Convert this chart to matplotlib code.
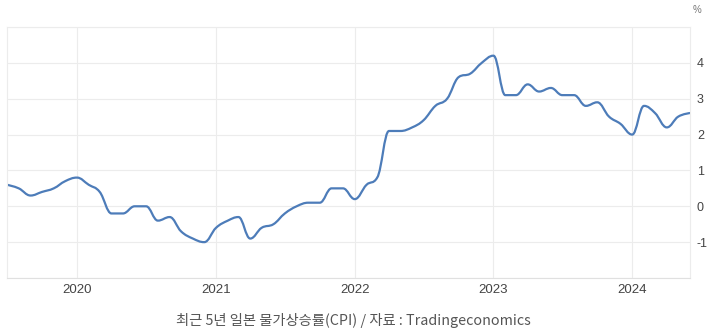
import numpy as np
import pandas as pd
import matplotlib
matplotlib.use("Agg")
import matplotlib.pyplot as plt
import matplotlib.dates as mdates
from matplotlib.path import Path
from matplotlib.patches import PathPatch

# 일본 근원 CPI (전년 대비, %), 2019-07 ~ 2024-06
months = pd.date_range("2019-07-01", "2024-06-01", freq="MS")
cpi = [0.6, 0.5, 0.3, 0.4, 0.5, 0.7,
       0.8, 0.6, 0.4, -0.2, -0.2, 0.0, 0.0, -0.4, -0.3, -0.7, -0.9, -1.0,
       -0.6, -0.4, -0.3, -0.9, -0.6, -0.5, -0.2, 0.0, 0.1, 0.1, 0.5, 0.5,
       0.2, 0.6, 0.8, 2.1, 2.1, 2.2, 2.4, 2.8, 3.0, 3.6, 3.7, 4.0,
       4.2, 3.1, 3.1, 3.4, 3.2, 3.3, 3.1, 3.1, 2.8, 2.9, 2.5, 2.3,
       2.0, 2.8, 2.6, 2.2, 2.5, 2.6]
y_ticks = [-1, 0, 1, 2, 3, 4]
year_ticks = ["2020", "2021", "2022", "2023", "2024"]
caption = "최근 5년 일본 물가상승률(CPI) / 자료 : Tradingeconomics"

line_color = "#4d7cb9"
grid_color = "#ececec"
text_color = "#444444"


def spline_path(xs, ys, smooth=1.5):
    # Highcharts 방식의 부드러운 곡선 (베지어 제어점)
    n = len(xs)
    verts = [(xs[0], ys[0])]
    codes = [Path.MOVETO]
    lc = [None] * n
    rc = [None] * n
    d = smooth + 1
    for i in range(1, n - 1):
        x0, y0 = xs[i - 1], ys[i - 1]
        x1, y1 = xs[i], ys[i]
        x2, y2 = xs[i + 1], ys[i + 1]
        lx = (smooth * x1 + x0) / d
        ly = (smooth * y1 + y0) / d
        rx = (smooth * x1 + x2) / d
        ry = (smooth * y1 + y2) / d
        if rx != lx:
            corr = (ry - ly) * (rx - x1) / (rx - lx) + y1 - ry
            ly += corr
            ry += corr
        if ly > y0 and ly > y1:
            ly = max(y0, y1)
            ry = 2 * y1 - ly
        elif ly < y0 and ly < y1:
            ly = min(y0, y1)
            ry = 2 * y1 - ly
        if ry > y2 and ry > y1:
            ry = max(y2, y1)
            ly = 2 * y1 - ry
        elif ry < y2 and ry < y1:
            ry = min(y2, y1)
            ly = 2 * y1 - ry
        lc[i] = (lx, ly)
        rc[i] = (rx, ry)
    for i in range(1, n):
        c1 = rc[i - 1] if rc[i - 1] is not None else (xs[i - 1], ys[i - 1])
        c2 = lc[i] if lc[i] is not None else (xs[i], ys[i])
        verts += [c1, c2, (xs[i], ys[i])]
        codes += [Path.CURVE4] * 3
    return Path(verts, codes)


fig = plt.figure(figsize=(7.09, 3.34), dpi=100)
ax = fig.add_axes([7 / 709, 1 - 278 / 334, 683 / 709, 251 / 334])

xnum = mdates.date2num(months)
path = spline_path(list(xnum), cpi)
ax.add_patch(PathPatch(path, facecolor="none", edgecolor=line_color,
                       lw=1.6, capstyle="round", joinstyle="round"))

ax.set_xlim(xnum[0], xnum[-1])
ax.set_ylim(-2, 5)

ax.set_yticks(range(-2, 6))
ax.set_yticklabels(["" if v not in y_ticks else str(v) for v in range(-2, 6)],
                   family="Liberation Sans")
ax.yaxis.tick_right()
ax.tick_params(axis="y", length=0, pad=5, labelsize=9, labelcolor=text_color)

xt = mdates.date2num(pd.to_datetime([y + "-01-01" for y in year_ticks]))
ax.set_xticks(xt)
ax.set_xticklabels(year_ticks, family="Liberation Sans")
ax.tick_params(axis="x", length=0, pad=4, labelsize=9.5, labelcolor=text_color)

ax.grid(True, color=grid_color, lw=0.8)
ax.set_axisbelow(True)
for s in ax.spines.values():
    s.set_color(grid_color)
    s.set_linewidth(0.8)
ax.spines["bottom"].set_color("#e0e0e0")

fig.text(697 / 709, 1 - 10 / 334, "%", ha="center", va="center",
         fontsize=7, color="#777777", family="Liberation Sans")
fig.text(353 / 709, 1 - 320 / 334, caption, ha="center", va="center",
         fontsize=10.3, color="#555555",
         family=["Noto Sans CJK KR", "DejaVu Sans"])

fig.savefig("out.png", dpi=100, facecolor="white")
